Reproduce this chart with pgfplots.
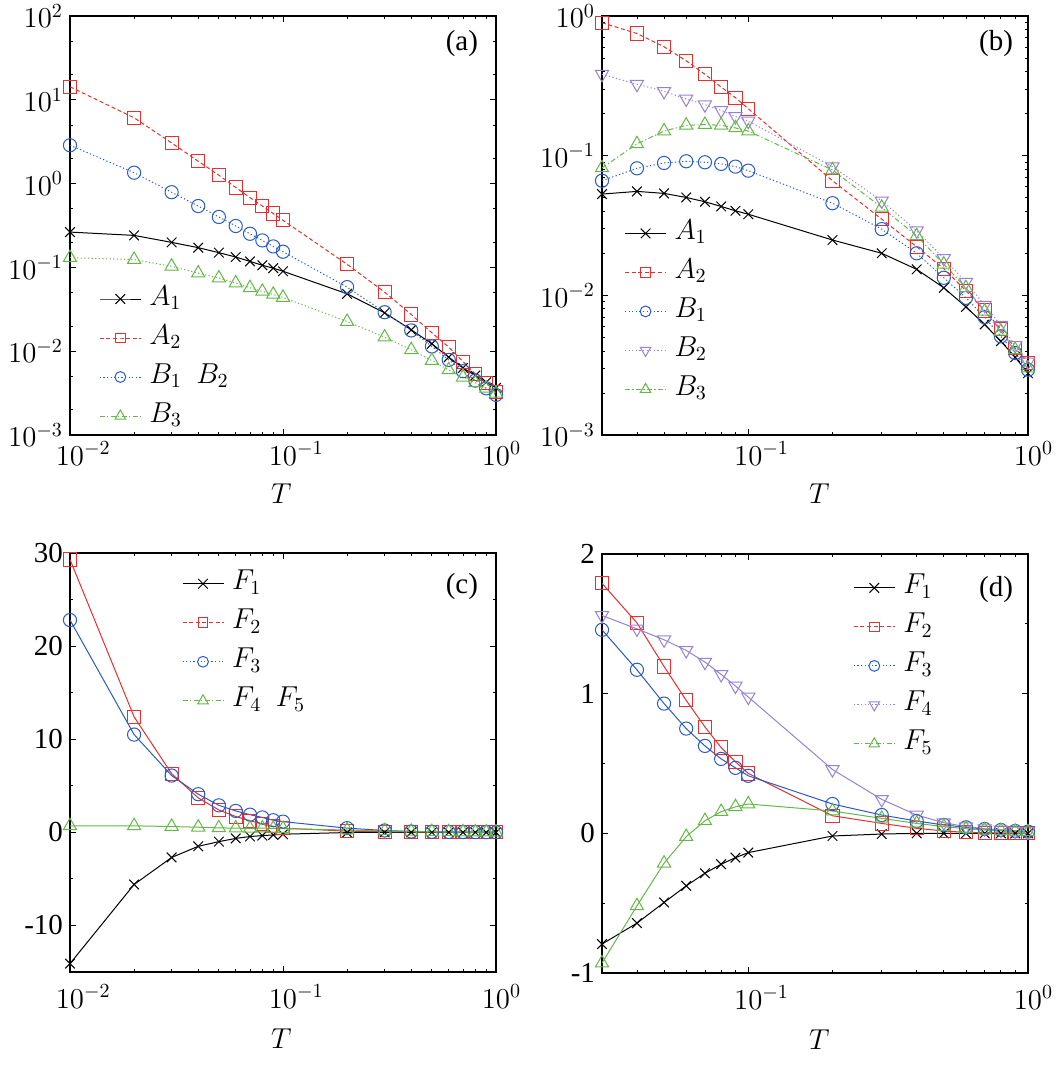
\documentclass[border=0pt]{standalone}
\usepackage[no-math]{fontspec}
\setmainfont{Liberation Serif}
\usepackage{pgfplots}
\pgfplotsset{compat=1.18}

\definecolor{cred}{RGB}{235,45,45}
\definecolor{cblue}{RGB}{40,90,200}
\definecolor{cgreen}{RGB}{100,185,70}
\definecolor{cpurple}{RGB}{150,130,210}

\pgfplotsset{
  panel/.style={
    scale only axis, width=213pt, height=209.5pt,
    font=\fontsize{14.5}{17}\selectfont,
    tick label style={font=\fontsize{14.5}{17}\selectfont},
    xmax=1,
    xlabel={$T$},
    major tick length=3pt, minor tick length=1.7pt,
    tick style={black, line width=0.4pt},
    axis line style={line width=0.6pt},
    legend cell align=left,
    legend style={draw=none, fill=none, inner sep=0pt, row sep=3.5pt,
      nodes={inner sep=1pt, text height=10pt, text depth=4pt},
      /tikz/every odd column/.append style={column sep=3pt},
      font=\fontsize{14.5}{17}\selectfont},
    legend image code/.code={
      \draw[mark repeat=2, mark phase=2, ##1]
        plot coordinates {(0pt,0pt) (10.25pt,0pt) (20.5pt,0pt)};
    },
  },
  % decade labels with the base "10" centred on the tick
  logx/.style={
    xticklabel={\pgfmathtruncatemacro\dexp{round(\tick/ln(10))}$\phantom{{}^{\dexp}}10^{\dexp}$},
  },
  sA/.style={black, line width=0.5pt, mark=x, mark size=3.4pt, mark options={solid}},
  sB/.style={cred, line width=0.5pt, mark=square, mark size=3.3pt, mark options={solid}},
  sC/.style={cblue, line width=0.5pt, mark=o, mark size=3.3pt, mark options={solid}},
  sD/.style={cpurple, line width=0.5pt, mark=triangle, mark size=3.8pt, mark options={solid, rotate=180}},
  sE/.style={cgreen, line width=0.5pt, mark=triangle, mark size=3.8pt, mark options={solid}},
  dashA/.style={dash pattern=on 2pt off 1.3pt},
  dotA/.style={dash pattern=on 0.6pt off 1.2pt},
  dashdotA/.style={dash pattern=on 2.5pt off 1.2pt on 0.6pt off 1.2pt},
}

\begin{document}
\begin{tikzpicture}
\useasboundingbox (0,0) rectangle (529.5pt,-533.5pt);

% (a) log-log
\begin{axis}[xmode=log, ymode=log, panel, logx, at={(35pt,-8pt)}, anchor=north west,
  xmin=0.01, ymin=1e-3, ymax=1e2,
  xtick={0.01,0.1,1},
  minor xtick={0.02,0.03,0.04,0.05,0.06,0.07,0.08,0.09,0.2,0.3,0.4,0.5,0.6,0.7,0.8,0.9},
  ytick={1e-3,1e-2,1e-1,1,10,100},
  minor ytick={2e-3,5e-3,2e-2,5e-2,0.2,0.5,2,5,20,50},
  xlabel style={at={(axis description cs:0.496,-0.139)}, anchor=center},
  legend style={at={(axis description cs:0.068,0.185)}, anchor=west},
]
\addplot[sA, forget plot] coordinates {(0.01,0.264)(0.02,0.241)(0.03,0.199)(0.04,0.172)(0.05,0.150)(0.06,0.133)(0.07,0.118)(0.08,0.106)(0.09,0.098)(0.1,0.090)(0.2,0.0484)(0.3,0.0287)(0.4,0.0180)(0.5,0.01225)(0.6,0.00848)(0.7,0.00632)(0.8,0.00512)(0.9,0.00426)(1.0,0.00365)};
\addplot[sB, dashA, forget plot] coordinates {(0.01,14.3)(0.02,6.1)(0.03,3.06)(0.04,1.85)(0.05,1.26)(0.06,0.90)(0.07,0.68)(0.08,0.54)(0.09,0.44)(0.1,0.365)(0.2,0.109)(0.3,0.0507)(0.4,0.0274)(0.5,0.0166)(0.6,0.0112)(0.7,0.0075)(0.8,0.00535)(0.9,0.00415)(1.0,0.00324)};
\addplot[sC, dotA, forget plot] coordinates {(0.01,2.87)(0.02,1.35)(0.03,0.79)(0.04,0.54)(0.05,0.40)(0.06,0.312)(0.07,0.252)(0.08,0.210)(0.09,0.178)(0.1,0.154)(0.2,0.0582)(0.3,0.0292)(0.4,0.0177)(0.5,0.0114)(0.6,0.00787)(0.7,0.00577)(0.8,0.00446)(0.9,0.00361)(1.0,0.00301)};
\addplot[sE, dotA, forget plot] coordinates {(0.01,0.1306)(0.02,0.124)(0.03,0.103)(0.04,0.0855)(0.05,0.0746)(0.06,0.0650)(0.07,0.0571)(0.08,0.0517)(0.09,0.0476)(0.1,0.0438)(0.2,0.0226)(0.3,0.0147)(0.4,0.0104)(0.5,0.00773)(0.6,0.00598)(0.7,0.00489)(0.8,0.00419)(0.9,0.00361)(1.0,0.00315)};
\addlegendimage{sA, mark size=3.4pt}
\addlegendentry{$A_1$}
\addlegendimage{sB, dashA, mark size=2.4pt}
\addlegendentry{$A_2$}
\addlegendimage{sC, dotA, mark size=2.7pt}
\addlegendentry{$B_1$\ \ $B_2$}
\addlegendimage{sE, dashdotA, mark size=3pt}
\addlegendentry{$B_3$}
\node at (axis description cs:0.920,0.935) {(a)};
\end{axis}

% (b) log-log
\begin{axis}[xmode=log, ymode=log, panel, logx, at={(301pt,-8pt)}, anchor=north west,
  xmin=0.03, ymin=1e-3, ymax=1,
  xtick={0.1,1},
  minor xtick={0.04,0.05,0.06,0.07,0.08,0.09,0.2,0.3,0.4,0.5,0.6,0.7,0.8,0.9},
  ytick={1e-3,1e-2,1e-1,1},
  minor ytick={2e-3,3e-3,4e-3,5e-3,6e-3,7e-3,8e-3,9e-3,2e-2,3e-2,4e-2,5e-2,6e-2,7e-2,8e-2,9e-2,0.2,0.3,0.4,0.5,0.6,0.7,0.8,0.9},
  xlabel style={at={(axis description cs:0.51,-0.139)}, anchor=center},
  legend style={at={(axis description cs:0.052,0.295)}, anchor=west},
]
\addplot[sA, forget plot] coordinates {(0.03,0.0531)(0.04,0.0555)(0.05,0.0537)(0.06,0.0502)(0.07,0.0468)(0.08,0.0433)(0.09,0.0403)(0.1,0.0381)(0.2,0.0249)(0.3,0.0200)(0.4,0.01535)(0.5,0.01133)(0.6,0.00827)(0.7,0.00618)(0.8,0.00469)(0.9,0.00360)(1.0,0.00277)};
\addplot[sB, dashA, forget plot] coordinates {(0.03,0.895)(0.04,0.75)(0.05,0.602)(0.06,0.478)(0.07,0.383)(0.08,0.310)(0.09,0.260)(0.1,0.217)(0.2,0.0662)(0.3,0.0351)(0.4,0.0223)(0.5,0.0155)(0.6,0.0108)(0.7,0.00778)(0.8,0.00574)(0.9,0.00420)(1.0,0.00327)};
\addplot[sC, dotA, forget plot] coordinates {(0.03,0.0662)(0.04,0.0812)(0.05,0.0887)(0.06,0.0912)(0.07,0.0897)(0.08,0.0873)(0.09,0.0835)(0.1,0.0781)(0.2,0.0457)(0.3,0.0298)(0.4,0.0200)(0.5,0.01336)(0.6,0.0096)(0.7,0.00697)(0.8,0.00509)(0.9,0.00386)(1.0,0.00293)};
\addplot[sD, dotA, forget plot] coordinates {(0.03,0.383)(0.04,0.325)(0.05,0.289)(0.06,0.255)(0.07,0.232)(0.08,0.211)(0.09,0.191)(0.1,0.177)(0.2,0.0835)(0.3,0.0475)(0.4,0.0290)(0.5,0.0184)(0.6,0.01244)(0.7,0.00851)(0.8,0.00611)(0.9,0.00438)(1.0,0.00333)};
\addplot[sE, dashdotA, forget plot] coordinates {(0.03,0.0817)(0.04,0.1215)(0.05,0.150)(0.06,0.165)(0.07,0.167)(0.08,0.165)(0.09,0.158)(0.1,0.150)(0.2,0.0790)(0.3,0.0426)(0.4,0.0267)(0.5,0.0167)(0.6,0.01133)(0.7,0.00769)(0.8,0.00553)(0.9,0.00408)(1.0,0.00301)};
\addlegendimage{sA, mark size=3.4pt}
\addlegendentry{$A_1$}
\addlegendimage{sB, dashA, mark size=2.4pt}
\addlegendentry{$A_2$}
\addlegendimage{sC, dotA, mark size=2.7pt}
\addlegendentry{$B_1$}
\addlegendimage{sD, dotA, mark size=3pt}
\addlegendentry{$B_2$}
\addlegendimage{sE, dashdotA, mark size=3pt}
\addlegendentry{$B_3$}
\node at (axis description cs:0.925,0.935) {(b)};
\end{axis}

% (c) linear y
\begin{axis}[xmode=log, panel, logx, at={(35pt,-276.5pt)}, anchor=north west,
  xmin=0.01, ymin=-15, ymax=30,
  xtick={0.01,0.1,1},
  minor xtick={0.02,0.03,0.04,0.05,0.06,0.07,0.08,0.09,0.2,0.3,0.4,0.5,0.6,0.7,0.8,0.9},
  ytick={-10,0,10,20,30}, yticklabels={-10,0,10,20,30},
  minor ytick={-5,5,15,25},
  xticklabel style={yshift=-3pt},
  xlabel style={at={(axis description cs:0.496,-0.16)}, anchor=center},
  legend style={at={(axis description cs:0.262,0.787)}, anchor=west},
]
\addplot[sA, forget plot] coordinates {(0.01,-14.1)(0.02,-5.6)(0.03,-2.7)(0.04,-1.5)(0.05,-1.0)(0.06,-0.65)(0.07,-0.45)(0.08,-0.35)(0.09,-0.28)(0.1,-0.2)(0.2,-0.02)(0.3,0)(0.4,0)(0.5,0)(0.6,0)(0.7,0)(0.8,0)(0.9,0)(1.0,0)};
\addplot[sB, forget plot] coordinates {(0.01,29.3)(0.02,12.4)(0.03,6.3)(0.04,3.7)(0.05,2.4)(0.06,1.7)(0.07,1.25)(0.08,0.9)(0.09,0.65)(0.1,0.45)(0.2,0.13)(0.3,0.07)(0.4,0.04)(0.5,0.02)(0.6,0.01)(0.7,0.005)(0.8,0.002)(0.9,0.001)(1.0,0)};
\addplot[sC, forget plot] coordinates {(0.01,22.8)(0.02,10.5)(0.03,6.1)(0.04,4.1)(0.05,2.9)(0.06,2.3)(0.07,1.9)(0.08,1.6)(0.09,1.3)(0.1,1.15)(0.2,0.45)(0.3,0.2)(0.4,0.09)(0.5,0.06)(0.6,0.04)(0.7,0.03)(0.8,0.024)(0.9,0.017)(1.0,0.012)};
\addplot[sE, forget plot] coordinates {(0.01,0.7)(0.02,0.7)(0.03,0.62)(0.04,0.55)(0.05,0.48)(0.06,0.45)(0.07,0.42)(0.08,0.45)(0.09,0.42)(0.1,0.4)(0.2,0.25)(0.3,0.15)(0.4,0.1)(0.5,0.07)(0.6,0.05)(0.7,0.04)(0.8,0.03)(0.9,0.02)(1.0,0.015)};
\addlegendimage{sA, mark size=3.4pt}
\addlegendentry{$F_1$}
\addlegendimage{sB, dashA, mark size=2.4pt}
\addlegendentry{$F_2$}
\addlegendimage{sC, dotA, mark size=2.7pt}
\addlegendentry{$F_3$}
\addlegendimage{sE, dashdotA, mark size=3pt}
\addlegendentry{$F_4$\ \ $F_5$}
\node at (axis description cs:0.920,0.919) {(c)};
\end{axis}

% (d) linear y
\begin{axis}[xmode=log, panel, logx, at={(301pt,-277pt)}, anchor=north west,
  xmin=0.03, ymin=-1, ymax=2,
  xtick={0.1,1},
  minor xtick={0.04,0.05,0.06,0.07,0.08,0.09,0.2,0.3,0.4,0.5,0.6,0.7,0.8,0.9},
  ytick={-1,0,1,2}, yticklabels={-1,0,1,2},
  minor ytick={-0.5,0.5,1.5},
  xticklabel style={yshift=-3pt},
  xlabel style={at={(axis description cs:0.51,-0.16)}, anchor=center},
  legend style={at={(axis description cs:0.589,0.733)}, anchor=west},
]
\addplot[sA, forget plot] coordinates {(0.03,-0.793)(0.04,-0.643)(0.05,-0.495)(0.06,-0.376)(0.07,-0.286)(0.08,-0.221)(0.09,-0.174)(0.1,-0.138)(0.2,-0.019)(0.3,-0.005)(0.4,0)(0.5,0)(0.6,0)(0.7,0)(0.8,0)(0.9,0)(1.0,0)};
\addplot[sB, forget plot] coordinates {(0.03,1.79)(0.04,1.507)(0.05,1.195)(0.06,0.952)(0.07,0.762)(0.08,0.614)(0.09,0.512)(0.1,0.429)(0.2,0.126)(0.3,0.071)(0.4,0.036)(0.5,0.017)(0.6,0.007)(0.7,0.005)(0.8,0.002)(0.9,0.001)(1.0,0)};
\addplot[sC, forget plot] coordinates {(0.03,1.457)(0.04,1.171)(0.05,0.929)(0.06,0.750)(0.07,0.626)(0.08,0.533)(0.09,0.469)(0.1,0.412)(0.2,0.210)(0.3,0.131)(0.4,0.088)(0.5,0.060)(0.6,0.043)(0.7,0.031)(0.8,0.024)(0.9,0.017)(1.0,0.012)};
\addplot[sD, forget plot] coordinates {(0.03,1.56)(0.04,1.464)(0.05,1.386)(0.06,1.31)(0.07,1.226)(0.08,1.138)(0.09,1.055)(0.1,0.976)(0.2,0.457)(0.3,0.243)(0.4,0.131)(0.5,0.076)(0.6,0.048)(0.7,0.033)(0.8,0.024)(0.9,0.017)(1.0,0.012)};
\addplot[sE, forget plot] coordinates {(0.03,-0.929)(0.04,-0.519)(0.05,-0.214)(0.06,-0.024)(0.07,0.090)(0.08,0.155)(0.09,0.19)(0.1,0.21)(0.2,0.16)(0.3,0.107)(0.4,0.071)(0.5,0.048)(0.6,0.033)(0.7,0.024)(0.8,0.019)(0.9,0.014)(1.0,0.010)};
\addlegendimage{sA, mark size=3.4pt}
\addlegendentry{$F_1$}
\addlegendimage{sB, dashA, mark size=2.4pt}
\addlegendentry{$F_2$}
\addlegendimage{sC, dotA, mark size=2.7pt}
\addlegendentry{$F_3$}
\addlegendimage{sD, dotA, mark size=3pt}
\addlegendentry{$F_4$}
\addlegendimage{sE, dashdotA, mark size=3pt}
\addlegendentry{$F_5$}
\node at (axis description cs:0.925,0.916) {(d)};
\end{axis}
\end{tikzpicture}
\end{document}
